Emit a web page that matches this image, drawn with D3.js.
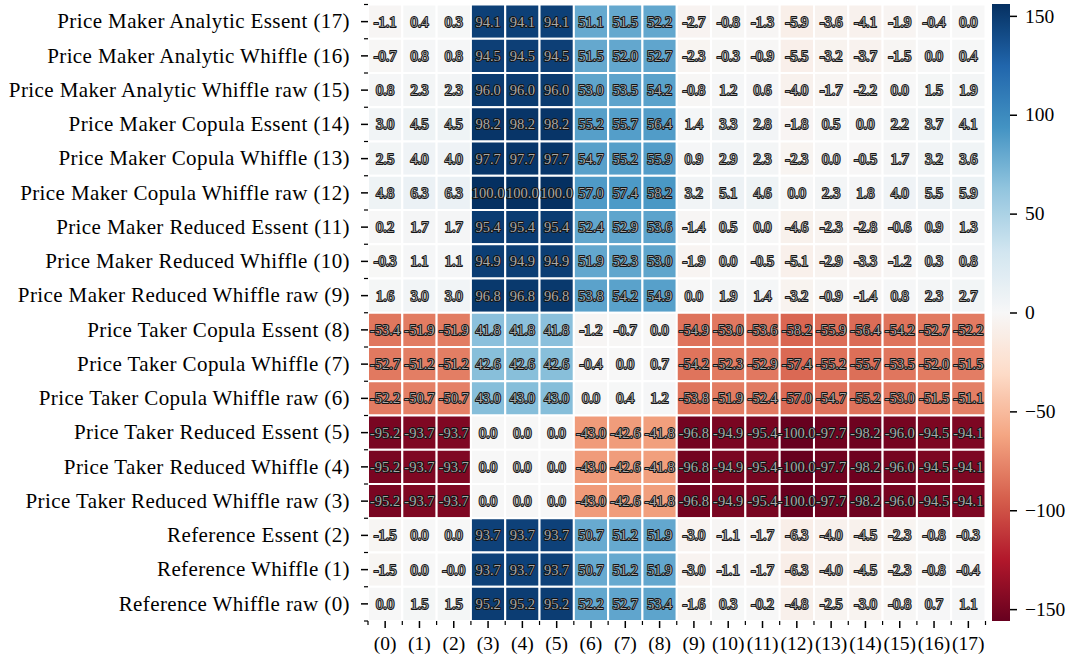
<!DOCTYPE html>
<html>
<head>
<meta charset="utf-8">
<script src="https://cdn.jsdelivr.net/npm/d3@7"></script>
<style>
  html, body { margin: 0; padding: 0; background: #fff; }
  svg { display: block; }
  .lbl { font-family: "Liberation Serif", "DejaVu Serif", serif; fill: #000; }
  .ann { font-family: "Liberation Serif", "DejaVu Serif", serif; font-size: 14.5px;
         fill: #a8a8a8; stroke: #141414; stroke-width: 1.9px; paint-order: stroke; stroke-linejoin: round; }
</style>
</head>
<body>
<svg id="chart" width="1075" height="662"></svg>
<script>
// Scenario names on the rows (listed top to bottom) and scenario indices on the columns
const rowLabels = [
  "Price Maker Analytic Essent (17)",
  "Price Maker Analytic Whiffle (16)",
  "Price Maker Analytic Whiffle raw (15)",
  "Price Maker Copula Essent (14)",
  "Price Maker Copula Whiffle (13)",
  "Price Maker Copula Whiffle raw (12)",
  "Price Maker Reduced Essent (11)",
  "Price Maker Reduced Whiffle (10)",
  "Price Maker Reduced Whiffle raw (9)",
  "Price Taker Copula Essent (8)",
  "Price Taker Copula Whiffle (7)",
  "Price Taker Copula Whiffle raw (6)",
  "Price Taker Reduced Essent (5)",
  "Price Taker Reduced Whiffle (4)",
  "Price Taker Reduced Whiffle raw (3)",
  "Reference Essent (2)",
  "Reference Whiffle (1)",
  "Reference Whiffle raw (0)"
];
const colLabels = ["(0)","(1)","(2)","(3)","(4)","(5)","(6)","(7)","(8)","(9)",
                   "(10)","(11)","(12)","(13)","(14)","(15)","(16)","(17)"];

// Relative differences, one row per scenario (same order as rowLabels)
const values = [
  [-1.1, 0.4, 0.3, 94.1, 94.1, 94.1, 51.1, 51.5, 52.2, -2.7, -0.8, -1.3, -5.9, -3.6, -4.1, -1.9, -0.4, 0.0],
  [-0.7, 0.8, 0.8, 94.5, 94.5, 94.5, 51.5, 52.0, 52.7, -2.3, -0.3, -0.9, -5.5, -3.2, -3.7, -1.5, 0.0, 0.4],
  [0.8, 2.3, 2.3, 96.0, 96.0, 96.0, 53.0, 53.5, 54.2, -0.8, 1.2, 0.6, -4.0, -1.7, -2.2, 0.0, 1.5, 1.9],
  [3.0, 4.5, 4.5, 98.2, 98.2, 98.2, 55.2, 55.7, 56.4, 1.4, 3.3, 2.8, -1.8, 0.5, 0.0, 2.2, 3.7, 4.1],
  [2.5, 4.0, 4.0, 97.7, 97.7, 97.7, 54.7, 55.2, 55.9, 0.9, 2.9, 2.3, -2.3, 0.0, -0.5, 1.7, 3.2, 3.6],
  [4.8, 6.3, 6.3, 100.0, 100.0, 100.0, 57.0, 57.4, 58.2, 3.2, 5.1, 4.6, 0.0, 2.3, 1.8, 4.0, 5.5, 5.9],
  [0.2, 1.7, 1.7, 95.4, 95.4, 95.4, 52.4, 52.9, 53.6, -1.4, 0.5, 0.0, -4.6, -2.3, -2.8, -0.6, 0.9, 1.3],
  [-0.3, 1.1, 1.1, 94.9, 94.9, 94.9, 51.9, 52.3, 53.0, -1.9, 0.0, -0.5, -5.1, -2.9, -3.3, -1.2, 0.3, 0.8],
  [1.6, 3.0, 3.0, 96.8, 96.8, 96.8, 53.8, 54.2, 54.9, 0.0, 1.9, 1.4, -3.2, -0.9, -1.4, 0.8, 2.3, 2.7],
  [-53.4, -51.9, -51.9, 41.8, 41.8, 41.8, -1.2, -0.7, 0.0, -54.9, -53.0, -53.6, -58.2, -55.9, -56.4, -54.2, -52.7, -52.2],
  [-52.7, -51.2, -51.2, 42.6, 42.6, 42.6, -0.4, 0.0, 0.7, -54.2, -52.3, -52.9, -57.4, -55.2, -55.7, -53.5, -52.0, -51.5],
  [-52.2, -50.7, -50.7, 43.0, 43.0, 43.0, 0.0, 0.4, 1.2, -53.8, -51.9, -52.4, -57.0, -54.7, -55.2, -53.0, -51.5, -51.1],
  [-95.2, -93.7, -93.7, 0.0, 0.0, 0.0, -43.0, -42.6, -41.8, -96.8, -94.9, -95.4, -100.0, -97.7, -98.2, -96.0, -94.5, -94.1],
  [-95.2, -93.7, -93.7, 0.0, 0.0, 0.0, -43.0, -42.6, -41.8, -96.8, -94.9, -95.4, -100.0, -97.7, -98.2, -96.0, -94.5, -94.1],
  [-95.2, -93.7, -93.7, 0.0, 0.0, 0.0, -43.0, -42.6, -41.8, -96.8, -94.9, -95.4, -100.0, -97.7, -98.2, -96.0, -94.5, -94.1],
  [-1.5, 0.0, 0.0, 93.7, 93.7, 93.7, 50.7, 51.2, 51.9, -3.0, -1.1, -1.7, -6.3, -4.0, -4.5, -2.3, -0.8, -0.3],
  [-1.5, 0.0, -0.0, 93.7, 93.7, 93.7, 50.7, 51.2, 51.9, -3.0, -1.1, -1.7, -6.3, -4.0, -4.5, -2.3, -0.8, -0.4],
  [0.0, 1.5, 1.5, 95.2, 95.2, 95.2, 52.2, 52.7, 53.4, -1.6, 0.3, -0.2, -4.8, -2.5, -3.0, -0.8, 0.7, 1.1]
];

const colorbarTicks = [-150, -100, -50, 0, 50, 100, 150];

// Diverging red-blue palette (ColorBrewer RdBu, linear segments)
const rdbu = ["#67001f","#b2182b","#d6604d","#f4a582","#fddbc7","#f7f7f7",
              "#d1e5f0","#92c5de","#4393c3","#2166ac","#053061"];
const rdbuInterp = d3.piecewise(d3.interpolateRgb, rdbu);

const cellColor = d3.scaleSequential(rdbuInterp).domain([-100, 100]).clamp(true);

const svg = d3.select("#chart");

const heat = { left: 368, right: 985.5, top: 4.5, bottom: 621 };
const x = d3.scaleBand().domain(colLabels).range([heat.left, heat.right]);
const y = d3.scaleBand().domain(rowLabels).range([heat.top, heat.bottom]);

const fmt = v => (v < 0 || Object.is(v, -0)) ? "-" + Math.abs(v).toFixed(1) : v.toFixed(1);

const cells = [];
values.forEach((row, i) => row.forEach((v, j) => cells.push({ r: rowLabels[i], c: colLabels[j], v })));

// Heatmap cells with white separators
svg.append("g").selectAll("rect").data(cells).join("rect")
  .attr("x", d => x(d.c))
  .attr("y", d => y(d.r))
  .attr("width", x.bandwidth())
  .attr("height", y.bandwidth())
  .attr("fill", d => cellColor(d.v))
  .attr("stroke", "#fff")
  .attr("stroke-width", 2);

// Cell annotations (outlined figures)
svg.append("g").selectAll("text").data(cells).join("text")
  .attr("class", "ann")
  .attr("x", d => x(d.c) + x.bandwidth() / 2)
  .attr("y", d => y(d.r) + y.bandwidth() / 2)
  .attr("text-anchor", "middle")
  .attr("dominant-baseline", "central")
  .text(d => fmt(d.v));

// Axes: major ticks at cell centres, minor ticks at cell borders
const yAxis = svg.append("g").attr("transform", `translate(${heat.left},0)`)
  .call(d3.axisLeft(y).tickSize(7).tickPadding(11));
yAxis.select(".domain").remove();
yAxis.selectAll(".tick line").attr("stroke-width", 1.5);
yAxis.selectAll("text").attr("class", "lbl")
  .style("font-size", "21px").style("letter-spacing", "0.4px");

const xAxis = svg.append("g").attr("transform", `translate(0,${heat.bottom})`)
  .call(d3.axisBottom(x).tickSize(7).tickPadding(8));
xAxis.select(".domain").remove();
xAxis.selectAll(".tick line").attr("stroke-width", 1.5);
xAxis.selectAll("text").attr("class", "lbl").style("font-size", "19.5px")
  .attr("dy", null).attr("y", 29);

const yEdges = d3.range(rowLabels.length + 1).map(i => heat.top + i * y.step());
svg.append("g").selectAll("line").data(yEdges).join("line")
  .attr("x1", heat.left - 4).attr("x2", heat.left)
  .attr("y1", d => d).attr("y2", d => d)
  .attr("stroke", "#000").attr("stroke-width", 1.2);

const xEdges = d3.range(colLabels.length + 1).map(i => heat.left + i * x.step());
svg.append("g").selectAll("line").data(xEdges).join("line")
  .attr("y1", heat.bottom).attr("y2", heat.bottom + 4)
  .attr("x1", d => d).attr("x2", d => d)
  .attr("stroke", "#000").attr("stroke-width", 1.2);

// Colorbar
const cb = { x: 992, w: 18, top: 4, bottom: 621 };
const cbScale = d3.scaleLinear().domain([-156, 156]).range([cb.bottom, cb.top]);
const cbColor = d3.scaleSequential(rdbuInterp).domain([-156, 156]);

const grad = svg.append("defs").append("linearGradient")
  .attr("id", "cbgrad").attr("x1", 0).attr("y1", 1).attr("x2", 0).attr("y2", 0);
d3.range(0, 1.0001, 0.02).forEach(t => {
  grad.append("stop").attr("offset", t).attr("stop-color", cbColor(-156 + t * 312));
});
svg.append("rect")
  .attr("x", cb.x).attr("y", cb.top)
  .attr("width", cb.w).attr("height", cb.bottom - cb.top)
  .attr("fill", "url(#cbgrad)");

const cbAxis = svg.append("g").attr("transform", `translate(${cb.x + cb.w},0)`)
  .call(d3.axisRight(cbScale).tickValues(colorbarTicks).tickSize(7).tickPadding(8));
cbAxis.select(".domain").remove();
cbAxis.selectAll(".tick line").attr("stroke-width", 1.5);
cbAxis.selectAll("text").attr("class", "lbl").style("font-size", "19.5px");
</script>
</body>
</html>
